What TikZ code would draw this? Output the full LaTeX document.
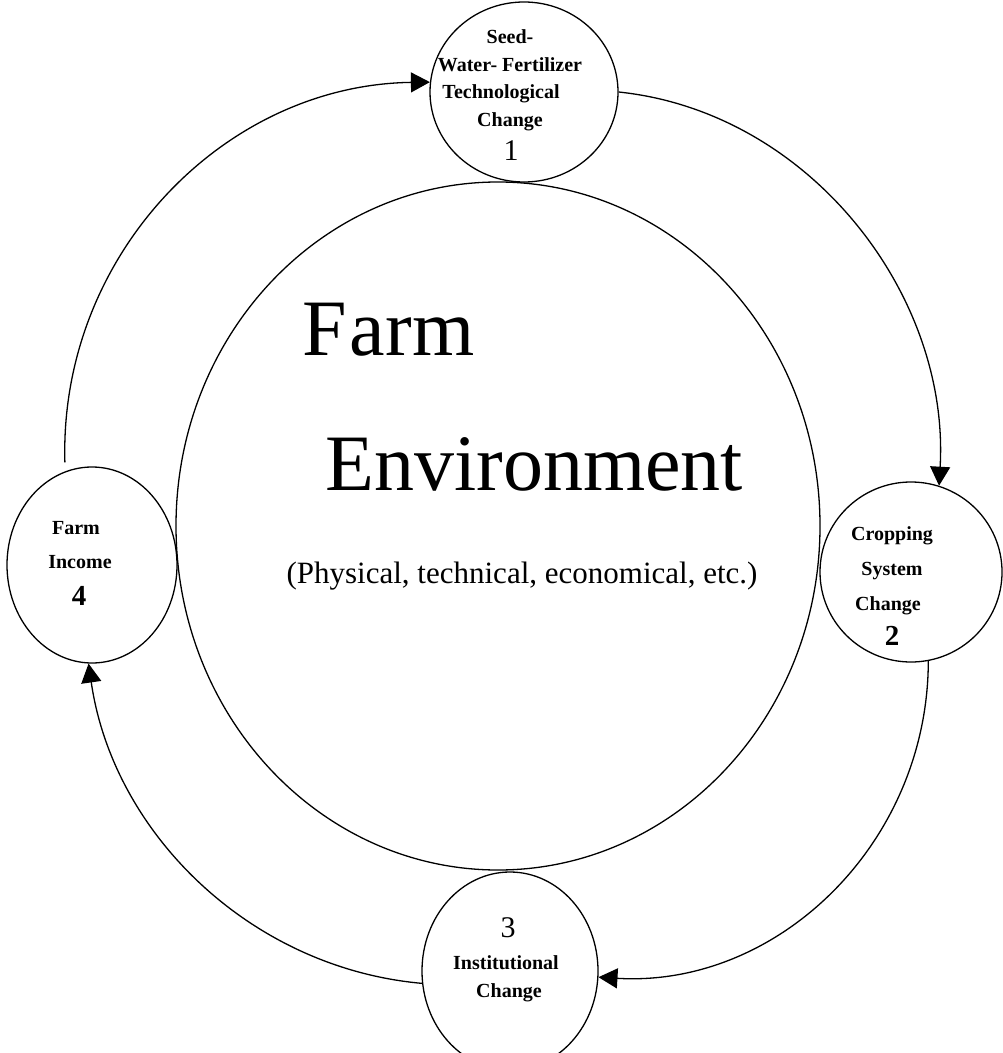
\documentclass[tikz,border=0pt]{standalone}
\usepackage{fontspec}
\setmainfont{Liberation Serif}
\usetikzlibrary{arrows.meta,shapes.geometric}
\begin{document}
\begin{tikzpicture}[x=0.5pt,y=-0.5pt,
  ring/.style={draw,ellipse,inner sep=0pt,line width=0.65pt},
  lbl/.style={font=\fontsize{10pt}{12pt}\selectfont\bfseries,anchor=base,inner sep=0pt},
  num/.style={font=\fontsize{15pt}{18pt}\selectfont,anchor=base,inner sep=0pt},
  bnum/.style={font=\fontsize{14.5pt}{18pt}\selectfont\bfseries,anchor=base,inner sep=0pt},
  big/.style={font=\fontsize{40pt}{48pt}\selectfont,anchor=base west,inner sep=0pt},
  conn/.style={line width=0.65pt,-{Triangle[length=9.5pt,width=10pt]}}]
\useasboundingbox (0,0) rectangle (1002,1053);
% circles
\node[ring,minimum width=322pt,minimum height=344pt] (env) at (498,526) {};
\node[ring,minimum width=94pt,minimum height=90pt] (c1) at (524,92) {};
\node[ring,minimum width=91pt,minimum height=90pt] (c2) at (911,572) {};
\node[ring,minimum width=88pt,minimum height=99pt] (c3) at (510,971) {};
\node[ring,minimum width=85pt,minimum height=98pt] (c4) at (92,565) {};
% central text
\node[big] (farm) at (302,355) {F\kern1.5pt arm};
\node[big] (envt) at (325,490) {Environment};
\node[anchor=base,font=\fontsize{15.5pt}{18pt}\selectfont,inner sep=0pt] (phys) at (522,583) {(Physical, technical, economical, etc.)};
% circle 1
\node[lbl] (t1a) at (510,44) {Seed-};
\node[lbl] (t1b) at (510,72) {Water- Fertilizer};
\node[lbl] (t1c) at (501,99) {Technological};
\node[lbl] (t1d) at (510,127) {Change};
\node[num] (t1e) at (511,161) {1};
% circle 2
\node[lbl] (t2a) at (892,540) {Cropping};
\node[lbl] (t2b) at (892,575) {System};
\node[lbl] (t2c) at (888,610) {Change};
\node[bnum] (t2d) at (892,645) {2};
% circle 3
\node[num] (t3a) at (508,937) {3};
\node[lbl] (t3b) at (506,969) {Institutional};
\node[lbl] (t3c) at (509,997) {Change};
% circle 4
\node[lbl] (t4a) at (76,534) {Farm};
\node[lbl] (t4b) at (80,568) {Income};
\node[bnum] (t4c) at (79,605) {4};
% connectors
\draw[conn] (c1.east) .. controls (810,112) and (950,295) .. (c2.72);
\draw[conn] (c2.-79) .. controls (928,843) and (778,988) .. (c3.-4);
\draw[conn] (c3.188) .. controls (250,968) and (113,833) .. (c4.-92);
\draw[conn,shorten <=4.5pt] (c4.106) .. controls (59,256) and (223,85) .. (c1.174);
\end{tikzpicture}
\end{document}
